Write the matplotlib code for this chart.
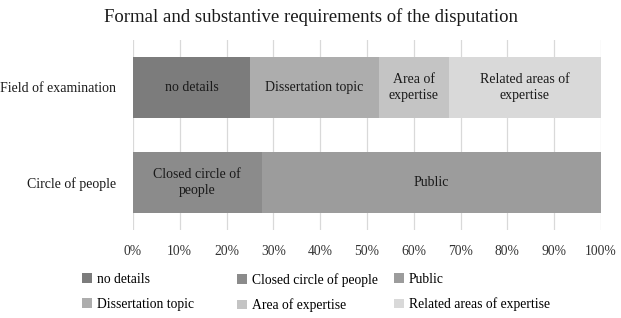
import matplotlib.pyplot as plt
from matplotlib.patches import Patch

plt.rcParams['font.family'] = ['Liberation Serif', 'DejaVu Serif']

categories = ['Field of examination', 'Circle of people']

# one segment list per row: (label, share in %, colour, label inside bar)
field_labels = ['no details', 'Dissertation topic', 'Area of expertise', 'Related areas of expertise']
field_values = [25.0, 27.5, 15.0, 32.5]
field_colors = ['#7c7c7c', '#adadad', '#c4c4c4', '#d9d9d9']
field_texts = ['no details', 'Dissertation topic', 'Area of\nexpertise', 'Related areas of\nexpertise']

circle_labels = ['Closed circle of people', 'Public']
circle_values = [27.5, 72.5]
circle_colors = ['#8b8b8b', '#9c9c9c']
circle_texts = ['Closed circle of\npeople', 'Public']

ticks = list(range(0, 101, 10))
tick_labels = [f'{t}%' for t in ticks]

fig = plt.figure(figsize=(6.21, 3.18), dpi=100)
ax = fig.add_axes([133 / 621, 1 - 230 / 318, 468 / 621, 190 / 318])

rows = [(field_values, field_colors, field_texts),
        (circle_values, circle_colors, circle_texts)]
for i, (vals, cols, texts) in enumerate(rows):
    left = 0
    for v, c, t in zip(vals, cols, texts):
        ax.barh(i, v, left=left, height=0.65, color=c, zorder=2)
        ax.text(left + v / 2, i, t, ha='center', va='center', fontsize=10,
                color='#1a1a1a', linespacing=1.25, zorder=3)
        left += v

ax.set_xlim(0, 100)
ax.set_ylim(1.5, -0.5)
ax.set_xticks(ticks)
ax.set_xticklabels(tick_labels, fontsize=9.8, color='#333333')
ax.set_yticks(range(len(categories)))
ax.set_yticklabels(categories, fontsize=10, color='#1a1a1a')
ax.tick_params(length=0)
ax.tick_params(axis='x', pad=11)
ax.tick_params(axis='y', pad=12)
ax.grid(axis='x', color='#d9d9d9', linewidth=0.9, zorder=0)
for s in ax.spines.values():
    s.set_visible(False)

fig.text(0.5, 1 - 17 / 318, 'Formal and substantive requirements of the disputation',
         ha='center', va='center', fontsize=13.5, color='#1a1a1a')

# legend: three fixed-width columns, like the original
legend_cols = [[(field_labels[0], field_colors[0]), (field_labels[1], field_colors[1])],
               [(circle_labels[0], circle_colors[0]), (field_labels[2], field_colors[2])],
               [(circle_labels[1], circle_colors[1]), (field_labels[3], field_colors[3])]]
col_x = [82, 237, 394]
for x, items in zip(col_x, legend_cols):
    hs = [Patch(facecolor=c, label=l) for l, c in items]
    fig.legend(handles=hs, loc='upper left', bbox_to_anchor=(x / 621, 1 - 273 / 318),
               frameon=False, fontsize=9.8, handlelength=0.7, handleheight=0.7,
               handletextpad=0.4, labelspacing=0.85, borderpad=0, borderaxespad=0)

fig.savefig('out.png', dpi=100)
